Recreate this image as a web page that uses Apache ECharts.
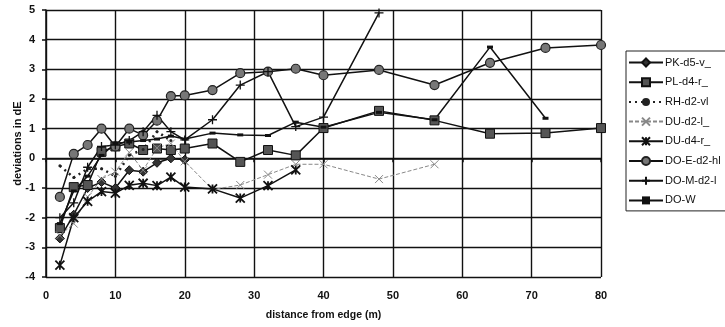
<!DOCTYPE html>
<html>
<head>
<meta charset="utf-8">
<script src="https://cdn.jsdelivr.net/npm/echarts@6/dist/echarts.min.js"></script>
<style>
  html, body { margin: 0; padding: 0; background: #fff; }
  #chart { width: 725px; height: 327px; }
</style>
</head>
<body>
<div id="chart"></div>
<script>
// distances (m) and deviations (dE) per series
const xTicks = [0, 10, 20, 30, 40, 50, 60, 70, 80]
const yTicks = [-4, -3, -2, -1, 0, 1, 2, 3, 4, 5]

const pkX = [2, 4, 6, 8, 10, 12, 14, 16, 18, 20]
const pkY = [-2.7, -1.9, -1.0, -0.8, -1.0, -0.4, -0.45, -0.15, 0.0, -0.05]

const plX = [2, 4, 6, 8, 10, 12, 14, 16, 18, 20, 24, 28, 32, 36, 40, 48, 56, 64, 72, 80]
const plY = [-2.35, -0.97, -0.9, 0.22, 0.4, 0.5, 0.28, 0.33, 0.28, 0.33, 0.5, -0.12, 0.28, 0.1, 1.02, 1.6, 1.28, 0.83, 0.85, 1.02]

const rhX = [2, 4, 6, 8, 10, 12, 14, 16, 18]
const rhY = [-0.25, -0.65, -0.35, -0.35, -0.6, 0.1, 0.3, 0.9, 0.6]

const du2X = [2, 4, 6, 8, 10, 12, 14, 16, 18, 20, 24, 28, 32, 36, 40, 48, 56]
const du2Y = [-2.6, -2.2, -1.3, -0.7, -0.45, 0.2, -0.4, 0.35, 0.5, -0.1, -1.05, -0.9, -0.55, -0.2, -0.2, -0.7, -0.2]

const du4X = [2, 4, 6, 8, 10, 12, 14, 16, 18, 20, 24, 28, 32, 36]
const du4Y = [-3.6, -2.0, -1.45, -1.12, -1.17, -0.91, -0.84, -0.92, -0.63, -0.97, -1.03, -1.34, -0.92, -0.39]

const doeX = [2, 4, 6, 8, 10, 12, 14, 16, 18, 20, 24, 28, 32, 36, 40, 48, 56, 64, 72, 80]
const doeY = [-1.3, 0.15, 0.45, 1.0, 0.4, 1.0, 0.78, 1.27, 2.1, 2.12, 2.3, 2.87, 2.92, 3.02, 2.8, 2.98, 2.47, 3.22, 3.72, 3.82]

const domX = [2, 4, 6, 8, 10, 12, 14, 16, 18, 20, 24, 28, 32, 36, 40, 48]
const domY = [-2.0, -1.5, -0.3, 0.4, 0.45, 0.6, 0.9, 1.45, 0.9, 0.62, 1.3, 2.47, 2.92, 1.07, 1.39, 4.9]

const dowX = [2, 4, 6, 8, 10, 12, 14, 16, 18, 20, 24, 28, 32, 36, 40, 48, 56, 64, 72]
const dowY = [-2.2, -1.1, -0.6, 0.1, 0.5, 0.55, 0.6, 0.65, 0.75, 0.65, 0.85, 0.79, 0.77, 1.22, 1.05, 1.55, 1.3, 3.75, 1.35]

const names = ['PK-d5-v_', 'PL-d4-r_', 'RH-d2-vl', 'DU-d2-l_', 'DU-d4-r_', 'DO-E-d2-hl', 'DO-M-d2-l', 'DO-W']

function pairs(xs, ys) {
  return xs.map((x, i) => [x, ys[i]])
}

const font = 'Liberation Sans, Arial, sans-serif'
const star = 'path://M0,0L10,10M10,0L0,10M5,0L5,10'
const cross = 'path://M0,0L10,10M10,0L0,10'
const plus = 'path://M5,0L5,10M0,5L10,5'

function line(name, data, opts) {
  return Object.assign({
    type: 'line',
    name: name,
    data: data,
    symbolSize: 8,
    lineStyle: { color: '#111', width: 1.5 },
    itemStyle: { color: '#111', borderColor: '#111', borderWidth: 1 },
    z: 3
  }, opts)
}

const chart = echarts.init(document.getElementById('chart'))

chart.setOption({
  animation: false,
  textStyle: { fontFamily: font },
  grid: { left: 46, right: 124, top: 10, bottom: 50, outerBoundsMode: 'none' },
  legend: {
    orient: 'vertical',
    left: 626,
    top: 51,
    data: names,
    itemWidth: 34,
    itemHeight: 10,
    itemGap: 8.7,
    padding: [6, 30, 5, 2],
    borderColor: '#222',
    borderWidth: 1,
    textStyle: { fontFamily: font, fontSize: 11, color: '#111', padding: [0, 0, 0, -3] }
  },
  xAxis: {
    type: 'value',
    min: xTicks[0],
    max: xTicks[xTicks.length - 1],
    interval: 10,
    name: 'distance from edge (m)',
    nameLocation: 'middle',
    nameGap: 33,
    nameMoveOverlap: false,
    nameTextStyle: { fontFamily: font, fontSize: 10.5, fontWeight: 'bold', color: '#111' },
    axisLine: { lineStyle: { color: '#111', width: 1.5 } },
    axisTick: { show: true, length: 4, lineStyle: { color: '#111', width: 1.5 } },
    axisLabel: { margin: 13, fontSize: 11, fontWeight: 'bold', color: '#111' },
    splitLine: { show: true, lineStyle: { color: '#111', width: 1.4 } }
  },
  yAxis: {
    type: 'value',
    min: yTicks[0],
    max: yTicks[yTicks.length - 1],
    interval: 1,
    name: 'deviations in dE',
    nameLocation: 'middle',
    nameGap: 23,
    nameMoveOverlap: false,
    nameTextStyle: { fontFamily: font, fontSize: 11, fontWeight: 'bold', color: '#111' },
    axisLine: { show: true, lineStyle: { color: '#111', width: 1.5 } },
    axisTick: { show: true, length: 4, lineStyle: { color: '#111', width: 1.5 } },
    axisLabel: { margin: 11, fontSize: 11, fontWeight: 'bold', color: '#111' },
    splitLine: { show: true, lineStyle: { color: '#111', width: 1.4 } }
  },
  series: [
    line(names[0], pairs(pkX, pkY), { symbol: 'diamond', symbolSize: 9,
      itemStyle: { color: '#333', borderColor: '#111', borderWidth: 1 } }),
    line(names[1], pairs(plX, plY), { symbol: 'rect', symbolSize: 9,
      itemStyle: { color: '#555', borderColor: '#111', borderWidth: 1 } }),
    line(names[2], pairs(rhX, rhY), { symbol: 'circle', symbolSize: 3,
      lineStyle: { color: '#222', width: 2.5, type: [2, 4] },
      itemStyle: { color: '#222' } }),
    line(names[3], pairs(du2X, du2Y), { symbol: cross, symbolSize: 8,
      lineStyle: { color: '#888', width: 1, type: [4, 2] },
      itemStyle: { color: '#888', borderColor: '#888', borderWidth: 1 } }),
    line(names[4], pairs(du4X, du4Y), { symbol: star, symbolSize: 9,
      itemStyle: { color: '#111', borderColor: '#111', borderWidth: 1.8 } }),
    line(names[5], pairs(doeX, doeY), { symbol: 'circle', symbolSize: 9,
      itemStyle: { color: '#777', borderColor: '#222', borderWidth: 1.2 } }),
    line(names[6], pairs(domX, domY), { symbol: plus, symbolSize: 9,
      itemStyle: { color: '#111', borderColor: '#111', borderWidth: 1.3 } }),
    line(names[7], pairs(dowX, dowY), { symbol: 'rect', symbolSize: [6, 3],
      itemStyle: { color: '#111', borderColor: '#111', borderWidth: 0 } })
  ]
})
</script>
</body>
</html>
